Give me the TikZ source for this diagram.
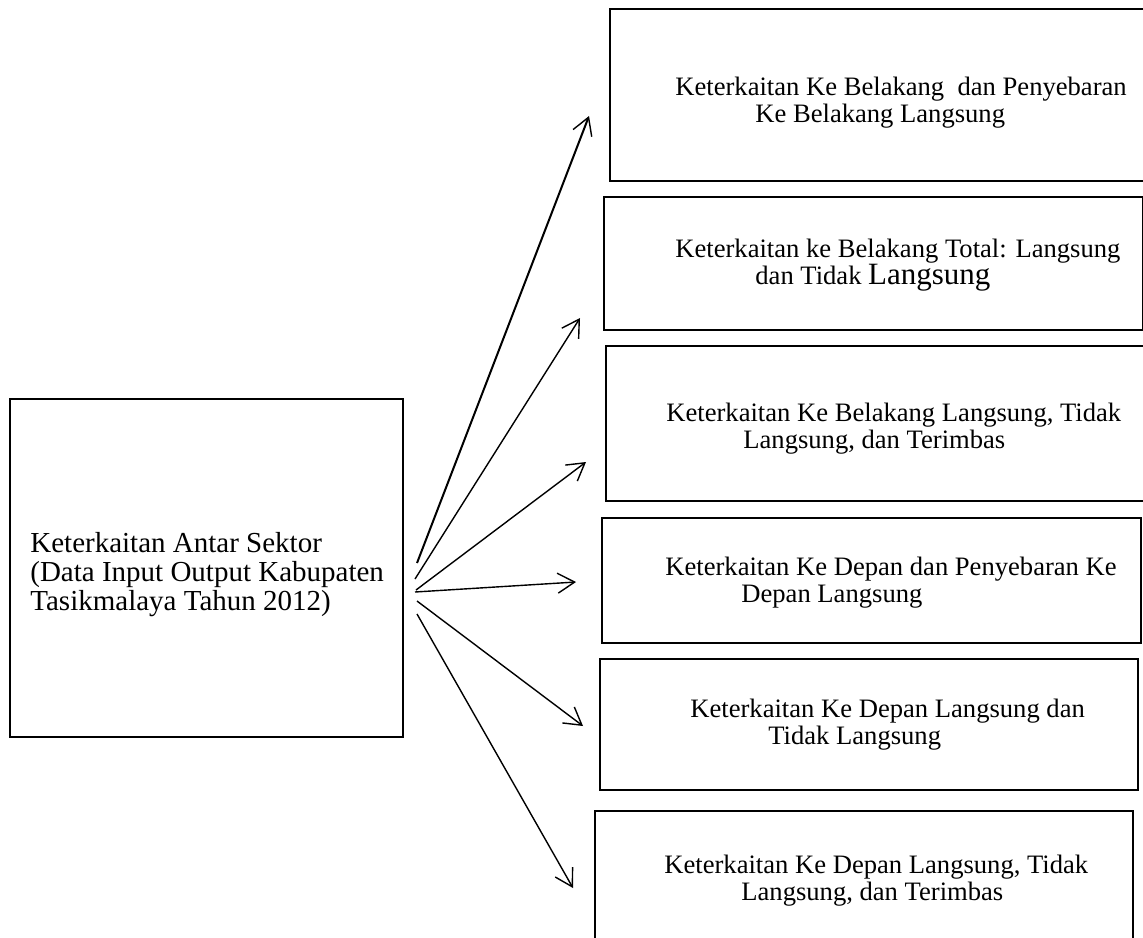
\documentclass[tikz,border=0pt]{standalone}
\usepackage{fontspec}
\setmainfont{Liberation Serif}
\usepackage{tikz}
\usetikzlibrary{arrows.meta,positioning}

\tikzset{
  kotak/.style={draw, line width=1pt, inner sep=0pt, anchor=north west},
  teks/.style={inner sep=0pt, align=left, font=\fontsize{13.3}{13.6}\selectfont},
  panah/.style={line width=0.7pt, -{Straight Barb[length=8.5pt,width=10pt,line width=0.7pt]}}
}

\begin{document}
\begin{tikzpicture}[x=0.5pt, y=-0.5pt]
            \useasboundingbox (0,0) rectangle (1143,937);
            % kotak kiri
            \node[kotak, minimum width=393*0.5pt, minimum height=338*0.5pt] (kiri) at (9,398) {};
            \node[teks, font=\fontsize{14.5}{14.5}\selectfont, right=10.5pt of kiri.west, yshift=-3.5pt] (tkiri) {Keterkaitan Antar Sektor\\(Data Input Output Kabupaten\\Tasikmalaya Tahun 2012)};

            % kotak kanan
            \node[kotak, minimum width=545*0.5pt, minimum height=172*0.5pt] (b1) at (609,8) {};
            \node[kotak, minimum width=539*0.5pt, minimum height=133*0.5pt] (b2) at (603,196) {};
            \node[kotak, minimum width=545*0.5pt, minimum height=155*0.5pt] (b3) at (605,345) {};
            \node[kotak, minimum width=539*0.5pt, minimum height=125*0.5pt] (b4) at (601,517) {};
            \node[kotak, minimum width=538*0.5pt, minimum height=131*0.5pt] (b5) at (599,658) {};
            \node[kotak, minimum width=538*0.5pt, minimum height=140*0.5pt] (b6) at (594,810) {};

            \node[teks, right=33pt of b1.west, yshift=-4pt] (t1) {Keterkaitan Ke Belakang\ \ dan Penyebaran\\\hspace*{40pt}Ke Belakang Langsung};
            \node[teks, right=36pt of b2.west, yshift=-1pt] (t2) {Keterkaitan ke Belakang Total: Langsung\\\hspace*{40pt}dan Tidak {\fontsize{15.5}{15}\selectfont Langsung}};
            \node[teks, right=30.5pt of b3.west, yshift=-2.5pt] (t3) {Keterkaitan Ke Belakang Langsung, Tidak\\\hspace*{38.5pt}Langsung, dan Terimbas};
            \node[teks, right=32pt of b4.west, yshift=-1pt] (t4) {Keterkaitan Ke Depan dan Penyebaran Ke\\\hspace*{38pt}Depan Langsung};
            \node[teks, right=45.5pt of b5.west] (t5) {Keterkaitan Ke Depan Langsung dan\\\hspace*{39pt}Tidak Langsung};
            \node[teks, right=35pt of b6.west] (t6) {Keterkaitan Ke Depan Langsung, Tidak\\\hspace*{38.5pt}Langsung, dan Terimbas};

            % ujung panah
            \coordinate (a1) at (417,563);
            \coordinate (a2) at (415,579);
            \coordinate (a3) at (416,590);
            \coordinate (a4) at (415,592);
            \coordinate (a5) at (417,601);
            \coordinate (a6) at (417,614);
            \coordinate (u1) at (589,116);
            \coordinate (u2) at (580,318);
            \coordinate (u3) at (586,462);
            \coordinate (u4) at (576,582);
            \coordinate (u5) at (583,726);
            \coordinate (u6) at (573,888);

            \draw[panah, line width=1pt] (a1) -- (u1);
            \draw[panah] (a2) -- (u2);
            \draw[panah] (a3) -- (u3);
            \draw[panah] (a4) -- (u4);
            \draw[panah] (a5) -- (u5);
            \draw[panah] (a6) -- (u6);
        \end{tikzpicture}
\end{document}
